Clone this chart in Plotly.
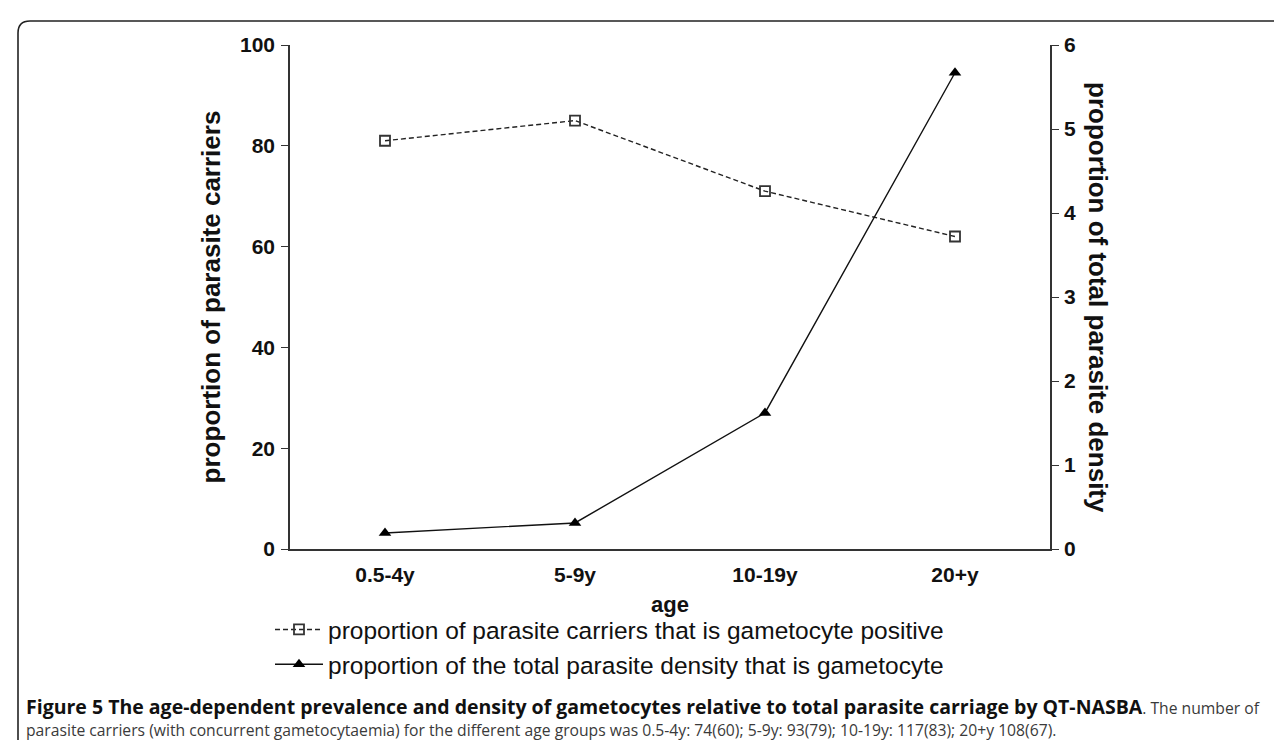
import plotly.graph_objects as go

# ---- data ----
age_groups = ["0.5-4y", "5-9y", "10-19y", "20+y"]
prop_carriers_gam_pos = [81, 85, 71, 62]          # left axis (%)
prop_density_gam = [0.19, 0.31, 1.62, 5.67]        # right axis
left_ticks = [0, 20, 40, 60, 80, 100]
right_ticks = [0, 1, 2, 3, 4, 5, 6]

name_a = "proportion of parasite carriers that is gametocyte positive"
name_b = "proportion of the total parasite density that is gametocyte"
caption_bold = ("Figure 5 The age-dependent prevalence and density of gametocytes relative to "
                "total parasite carriage by QT-NASBA")
caption_1_rest = ". The number of"
caption_2 = ("parasite carriers (with concurrent gametocytaemia) for the different age groups was "
             "0.5-4y: 74(60); 5-9y: 93(79); 10-19y: 117(83); 20+y 108(67).")

W, H = 1282, 740
L, R, T, B = 282, 240, 37, 199
pw, ph = W - L - R, H - T - B

def px_x(x):
    return (x - L) / pw

def px_y(y):
    return (H - B - y) / ph

fig = go.Figure()
fig.add_trace(go.Scatter(
    x=age_groups, y=prop_carriers_gam_pos, name=name_a, mode="lines+markers",
    line=dict(color="#222", width=1.4, dash="5px,3px"),
    marker=dict(symbol="square-open", size=10, color="#333", line=dict(width=1.8, color="#333")),
    yaxis="y", legendgroup="a"))
fig.add_trace(go.Scatter(
    x=age_groups, y=prop_density_gam, name=name_b, mode="lines+markers",
    line=dict(color="#111", width=1.4),
    marker=dict(symbol="triangle-up", size=11, color="#000"),
    yaxis="y2", legendgroup="b"))

axis_font = dict(family="Liberation Sans, Arial", size=21, color="#111", weight="bold")
title_font = dict(family="Liberation Sans, Arial", size=26, color="#111")

fig.update_layout(
    width=W, height=H,
    margin=dict(l=L, r=R, t=T, b=B, autoexpand=False),
    paper_bgcolor="white", plot_bgcolor="white",
    font=dict(family="Liberation Sans, Arial", color="#111"),
    xaxis=dict(
        type="category", range=[-0.5, 3.5], showline=True, linecolor="#333", linewidth=1.5,
        ticks="", showgrid=False, zeroline=False, tickfont=axis_font, ticklabelstandoff=6,
        title=dict(text="<b>age</b>", font=dict(family="Liberation Sans, Arial", size=22, color="#111"),
                   standoff=12)),
    yaxis=dict(
        range=[0, 100], tickvals=left_ticks, showline=True, linecolor="#333", linewidth=1.5,
        ticks="outside", ticklen=7, tickwidth=1.3, tickcolor="#333", showgrid=False, zeroline=False,
        tickfont=axis_font, ticklabelstandoff=2,
        title=dict(text="<b>proportion of parasite carriers</b>", font=title_font, standoff=12)),
    yaxis2=dict(
        range=[0, 6], tickvals=right_ticks, overlaying="y", side="right", showline=True,
        linecolor="#333", linewidth=1.5, ticks="outside", ticklen=7, tickwidth=1.3, tickcolor="#333",
        showgrid=False, zeroline=False, tickfont=axis_font, ticklabelstandoff=1),
    legend=dict(
        x=px_x(262), xanchor="left", y=px_y(599), yanchor="top",
        font=dict(family="Liberation Sans, Arial", size=24.5, color="#111"),
        bgcolor="rgba(0,0,0,0)", tracegroupgap=0, itemwidth=48),
    showlegend=True,
)

# right axis title (reads top-to-bottom)
fig.add_annotation(
    text="<b>proportion of total parasite density</b>", textangle=90,
    xref="paper", yref="paper", x=px_x(1090), y=0.5, xanchor="center", yanchor="middle",
    showarrow=False, font=title_font)

# caption
cap_font = dict(family="Open Sans", size=15.7, color="#3a3a3a")
fig.add_annotation(
    text=f"<span style='font-size:19.5px;color:#111'><b>{caption_bold}</b></span>{caption_1_rest}",
    xref="paper", yref="paper", x=px_x(16), y=px_y(698),
    xanchor="left", yanchor="middle", showarrow=False, font=cap_font, align="left")
fig.add_annotation(text=caption_2, xref="paper", yref="paper", x=px_x(16), y=px_y(722),
                   xanchor="left", yanchor="middle", showarrow=False, font=cap_font, align="left")

# rounded frame
x0, x1 = px_x(10), px_x(1300)
y0, y1 = px_y(13), px_y(760)
rx, ry = 12 / pw, 12 / ph
path = (f"M {x0},{y1} L {x0},{y0 - ry} Q {x0},{y0} {x0 + rx},{y0} L {x1},{y0}")
fig.add_shape(type="path", path=path, xref="paper", yref="paper",
              line=dict(color="#222", width=1.6), layer="below")

fig.write_html("out.html")
